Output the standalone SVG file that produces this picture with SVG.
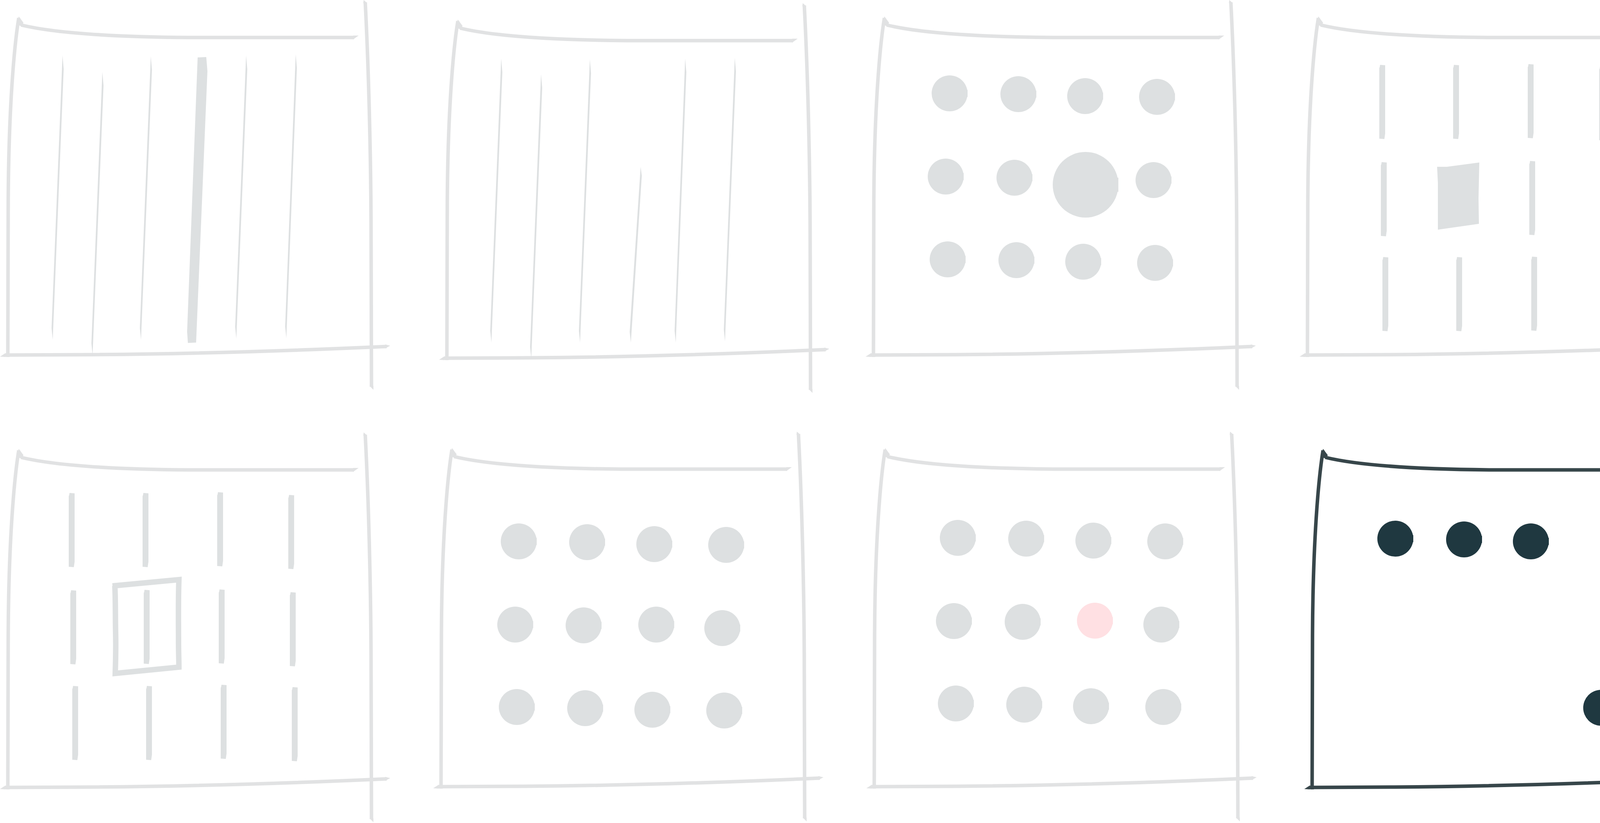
<svg xmlns="http://www.w3.org/2000/svg" xmlns:xlink="http://www.w3.org/1999/xlink" width="4339" height="2107" viewBox="0 0 4339 2107">
<style>
.fr{color:#e1e2e3}
.frd{color:#37464a}
.g{fill:#dde0e1}
.pk{fill:#ffe0e3}
.dk{fill:#1f3840}
</style>
<defs>
<g id="frame">
<g fill="none" stroke="currentColor" stroke-width="9">
<path d="M48,46 C36,120 22,280 21,520 L20,914"/>
<path d="M54,64 C120,80 250,94 480,96 L906,96"/>
<path d="M935,6 C943,160 950,400 950,620 L951,990"/>
<path d="M14,909 L231,908 C500,906 750,898 990,887"/>
</g>
<g fill="currentColor">
<path d="M43,62 L48,42 L60,58 L56,68 Z"/>
<path d="M904,91 L918,91 L904,101 Z"/>
<path d="M930,8 L931,0 L940,8 Z"/>
<path d="M946,988 L956,988 L956,998 Z"/>
<path d="M0,913 L14,904 L14,914 Z"/>
<path d="M986,882 L999,885 L986,892 Z"/>
</g>
</g>
<path id="bar" d="M0,8 l1,-2 1,-6 13,1 V176 l-2,14 -13,-1 Z"/>
<g id="dot"><circle cx="0" cy="0" r="46"/><rect x="43" y="-9" width="3" height="18"/></g>
</defs>
<rect width="4339" height="2107" fill="#ffffff"/>

<g id="panel-1">
<use xlink:href="#frame" href="#frame" class="fr"/>
<g class="g">
<path d="M160,142 L163,177 L135,870 L132,840 Z"/>
<path d="M262,184 L265,219 L237,909 L234,879 Z"/>
<path d="M386,144 L389,179 L361,870 L358,840 Z"/>
<path d="M506,147 L528,146 L531,182 L502,877 L481,878 L479,849 Z"/>
<path d="M630,142 L633,177 L605,867 L602,837 Z"/>
<path d="M757,139 L760,174 L733,866 L730,836 Z"/>
</g>
</g>

<g id="panel-2">
<use xlink:href="#frame" href="#frame" class="fr" transform="translate(1124,8)"/>
<g class="g">
<path d="M1283,150 L1286,185 L1258,877 L1255,847 Z"/>
<path d="M1385,190 L1388,225 L1360,918 L1357,888 Z"/>
<path d="M1510,152 L1513,187 L1485,877 L1482,847 Z"/>
<path d="M1640,427 L1643,450 L1615,877 L1612,850 Z"/>
<path d="M1754,150 L1757,185 L1730,877 L1727,847 Z"/>
<path d="M1881,148 L1884,183 L1856,874 L1853,844 Z"/>
</g>
</g>

<g id="panel-3">
<use xlink:href="#frame" href="#frame" class="fr" transform="translate(2216,0)"/>
<g class="g">
<use href="#dot" xlink:href="#dot" x="2431" y="239"/>
<use href="#dot" xlink:href="#dot" x="2607" y="241"/>
<use href="#dot" xlink:href="#dot" x="2778" y="246"/>
<use href="#dot" xlink:href="#dot" x="2962" y="248"/>
<use href="#dot" xlink:href="#dot" x="2421" y="452"/>
<use href="#dot" xlink:href="#dot" x="2597" y="455"/>
<circle cx="2779" cy="473" r="84"/>
<rect x="2860" y="455" width="3" height="36"/>
<use href="#dot" xlink:href="#dot" x="2953" y="461"/>
<use href="#dot" xlink:href="#dot" x="2426" y="664"/>
<use href="#dot" xlink:href="#dot" x="2602" y="666"/>
<use href="#dot" xlink:href="#dot" x="2773" y="670"/>
<use href="#dot" xlink:href="#dot" x="2957" y="673"/>
</g>
</g>

<g id="panel-4">
<use xlink:href="#frame" href="#frame" class="fr" transform="translate(3327,0)"/>
<g class="g">
<use href="#bar" xlink:href="#bar" x="3531" y="166"/>
<use href="#bar" xlink:href="#bar" x="3720" y="166"/>
<use href="#bar" xlink:href="#bar" x="3911" y="164"/>
<use href="#bar" xlink:href="#bar" x="4094" y="170"/>
<use href="#bar" xlink:href="#bar" x="3535" y="415"/>
<path d="M3679,427 L3704,427 L3787,416 L3785,508 L3786,573 L3681,588 L3681,522 L3681,469 Z"/>
<use href="#bar" xlink:href="#bar" x="3915" y="412"/>
<use href="#bar" xlink:href="#bar" x="4098" y="419"/>
<use href="#bar" xlink:href="#bar" x="3539" y="658"/>
<use href="#bar" xlink:href="#bar" x="3728" y="658"/>
<use href="#bar" xlink:href="#bar" x="3920" y="657"/>
<use href="#bar" xlink:href="#bar" x="4102" y="663"/>
</g>
</g>

<g id="panel-5">
<use xlink:href="#frame" href="#frame" class="fr" transform="translate(0,1107)"/>
<g class="g">
<use href="#bar" xlink:href="#bar" x="176" y="1262"/>
<use href="#bar" xlink:href="#bar" x="365" y="1262"/>
<use href="#bar" xlink:href="#bar" x="556" y="1260"/>
<use href="#bar" xlink:href="#bar" x="738" y="1267"/>
<use href="#bar" xlink:href="#bar" x="180" y="1511"/>
<use href="#bar" xlink:href="#bar" x="368" y="1510"/>
<use href="#bar" xlink:href="#bar" x="560" y="1509"/>
<use href="#bar" xlink:href="#bar" x="742" y="1516"/>
<use href="#bar" xlink:href="#bar" x="185" y="1756"/>
<use href="#bar" xlink:href="#bar" x="374" y="1756"/>
<use href="#bar" xlink:href="#bar" x="565" y="1753"/>
<use href="#bar" xlink:href="#bar" x="747" y="1759"/>
</g>
<path d="M288,1500 L458,1484 C456,1540 457,1600 457,1640 C457,1670 458,1690 458,1708 L295,1724 C296,1690 297,1660 296,1620 C295,1580 296,1540 294,1500" fill="none" stroke="#dde0e1" stroke-width="14"/>
</g>

<g id="panel-6">
<use xlink:href="#frame" href="#frame" class="fr" transform="translate(1109,1105)"/>
<g class="g">
<use href="#dot" xlink:href="#dot" x="1328" y="1386"/>
<use href="#dot" xlink:href="#dot" x="1503" y="1388"/>
<use href="#dot" xlink:href="#dot" x="1675" y="1393"/>
<use href="#dot" xlink:href="#dot" x="1859" y="1395"/>
<use href="#dot" xlink:href="#dot" x="1319" y="1599"/>
<use href="#dot" xlink:href="#dot" x="1494" y="1601"/>
<use href="#dot" xlink:href="#dot" x="1680" y="1599"/>
<use href="#dot" xlink:href="#dot" x="1849" y="1608"/>
<use href="#dot" xlink:href="#dot" x="1323" y="1810"/>
<use href="#dot" xlink:href="#dot" x="1498" y="1813"/>
<use href="#dot" xlink:href="#dot" x="1670" y="1817"/>
<use href="#dot" xlink:href="#dot" x="1854" y="1819"/>
</g>
</g>

<g id="panel-7">
<use xlink:href="#frame" href="#frame" class="fr" transform="translate(2218,1105)"/>
<g class="g">
<use href="#dot" xlink:href="#dot" x="2452" y="1377"/>
<use href="#dot" xlink:href="#dot" x="2627" y="1379"/>
<use href="#dot" xlink:href="#dot" x="2799" y="1384"/>
<use href="#dot" xlink:href="#dot" x="2983" y="1386"/>
<use href="#dot" xlink:href="#dot" x="2442" y="1590"/>
<use href="#dot" xlink:href="#dot" x="2618" y="1592"/>
<use href="#dot" xlink:href="#dot" x="2973" y="1599"/>
<use href="#dot" xlink:href="#dot" x="2447" y="1801"/>
<use href="#dot" xlink:href="#dot" x="2622" y="1804"/>
<use href="#dot" xlink:href="#dot" x="2793" y="1808"/>
<use href="#dot" xlink:href="#dot" x="2978" y="1810"/>
</g>
<use href="#dot" xlink:href="#dot" x="2803" y="1589" class="pk"/>
</g>

<g id="panel-8">
<use xlink:href="#frame" href="#frame" class="frd" transform="translate(3339,1107)"/>
<g class="dk">
<use href="#dot" xlink:href="#dot" x="3572" y="1379"/>
<use href="#dot" xlink:href="#dot" x="3748" y="1381"/>
<use href="#dot" xlink:href="#dot" x="3919" y="1386"/>
<use href="#dot" xlink:href="#dot" x="4099" y="1812"/>
</g>
</g>
</svg>
